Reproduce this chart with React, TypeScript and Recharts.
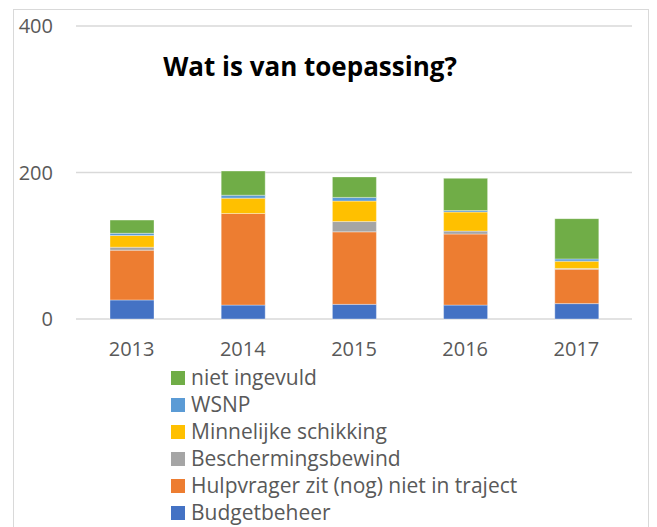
import React from "react";
import { BarChart, Bar, XAxis, YAxis, CartesianGrid } from "recharts";

const years = ["2013", "2014", "2015", "2016", "2017"];
const budgetbeheer = [26, 19, 20, 19, 21];
const hulpvrager = [68, 125, 99, 97, 47];
const beschermingsbewind = [4, 0, 14, 4, 1];
const minnelijke = [16, 21, 28, 26, 10];
const wsnp = [3, 4, 5, 2, 3];
const nietIngevuld = [18, 33, 28, 44, 55];
const yTicks = [0, 200, 400];

const series = [
  { key: "budgetbeheer", name: "Budgetbeheer", color: "#4472C4", values: budgetbeheer },
  { key: "hulpvrager", name: "Hulpvrager zit (nog) niet in traject", color: "#ED7D31", values: hulpvrager },
  { key: "beschermingsbewind", name: "Beschermingsbewind", color: "#A5A5A5", values: beschermingsbewind },
  { key: "minnelijke", name: "Minnelijke schikking", color: "#FFC000", values: minnelijke },
  { key: "wsnp", name: "WSNP", color: "#5B9BD5", values: wsnp },
  { key: "nietIngevuld", name: "niet ingevuld", color: "#70AD47", values: nietIngevuld },
];

const data = years.map((y, i) => {
  const row: Record<string, string | number> = { year: y };
  series.forEach((s) => {
    row[s.key] = s.values[i];
  });
  return row;
});

const FONT = "'Open Sans', sans-serif";

export default function App() {
  return (
    <div style={{ position: "absolute", left: 0, top: 0, width: 657, height: 527, background: "#fff", overflow: "hidden", fontFamily: FONT }}>
      <div
        style={{
          position: "absolute",
          left: 13,
          top: 9,
          width: 636,
          height: 560,
          border: "1.5px solid #d9d9d9",
          boxSizing: "border-box",
        }}
      />
      <BarChart
        width={657}
        height={527}
        data={data}
        margin={{ top: 26, right: 25, left: 16, bottom: 178 }}
        style={{ position: "absolute", left: 0, top: 0 }}
      >
        <CartesianGrid vertical={false} stroke="#d9d9d9" strokeWidth={1.5} />
        <XAxis
          dataKey="year"
          axisLine={false}
          tickLine={false}
          tickSize={0}
          tickMargin={23}
          height={30}
          tick={{ fill: "#595959", fontSize: 20, fontFamily: FONT }}
        />
        <YAxis
          domain={[0, 400]}
          ticks={yTicks}
          axisLine={false}
          tickLine={false}
          tickSize={0}
          tickMargin={23}
          width={60}
          tick={{ fill: "#595959", fontSize: 20, fontFamily: FONT }}
        />
        {series.map((s) => (
          <Bar
            key={s.key}
            dataKey={s.key}
            name={s.name}
            stackId="a"
            fill={s.color}
            barSize={44}
            stroke="#ffffff"
            strokeOpacity={0.35}
            strokeWidth={1}
            isAnimationActive={false}
          />
        ))}
      </BarChart>
      <div
        style={{
          position: "absolute",
          left: 0,
          width: 620,
          top: 48,
          textAlign: "center",
          fontWeight: 700,
          fontSize: 26,
          color: "#000",
          fontFamily: FONT,
        }}
      >
        Wat is van toepassing?
      </div>
      <div style={{ position: "absolute", left: 171, top: 364 }}>
        {[...series].reverse().map((s) => (
          <div key={s.key} style={{ display: "flex", alignItems: "center", height: 27 }}>
            <div style={{ width: 14, height: 14, background: s.color, marginRight: 6 }} />
            <span style={{ fontSize: 21, color: "#595959", fontFamily: FONT, whiteSpace: "nowrap", lineHeight: "27px" }}>{s.name}</span>
          </div>
        ))}
      </div>
    </div>
  );
}
